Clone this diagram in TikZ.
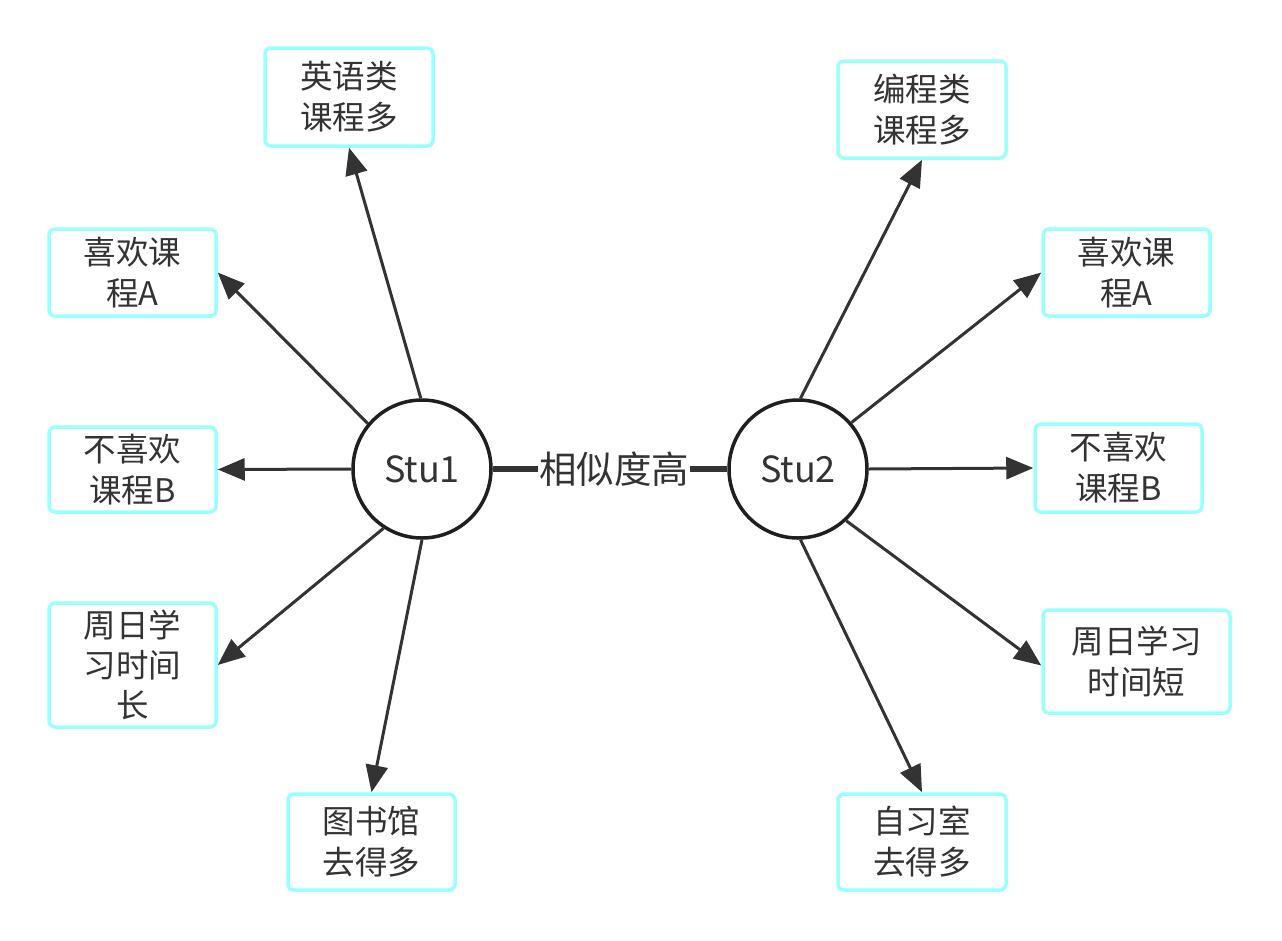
\documentclass[tikz,border=0pt]{standalone}
\usepackage{fontspec}
\setmainfont{Noto Sans CJK SC}
\usetikzlibrary{arrows.meta}
\definecolor{ink}{HTML}{333333}
\definecolor{boxc}{HTML}{99FFFF}
\begin{document}
\begin{tikzpicture}[x=1pt,y=-1pt,
  every node/.style={text=ink},
  infobox/.style={draw=boxc, line width=3.5pt, rounded corners=6pt, fill=white,
    align=center, inner sep=0pt, font=\fontsize{32.5}{41}\selectfont},
  stu/.style={circle, draw=black!88, line width=3.5pt, fill=white,
    minimum size=138pt, inner sep=0pt, font=\fontsize{36}{42}\selectfont},
  conn/.style={draw=ink, line width=3pt, -{Triangle[length=27pt,width=22pt]}},
  link/.style={draw=ink, line width=5.5pt}]
\useasboundingbox (0,0) rectangle (1282,940);
% students
\node[stu] (s1) at (422,469) {Stu1};
\node[stu] (s2) at (798,469) {Stu2};
\node[inner sep=1pt, font=\fontsize{37.5}{42}\selectfont] (mid) at (614,469) {相似度高};
% boxes Stu1
\node[infobox, minimum width=168pt, minimum height=98pt] (b1) at (349,97) {英语类\\课程多};
\node[infobox, minimum width=167pt, minimum height=87pt] (b2) at (132.5,272.5) {\raisebox{-3pt}{\parbox{160pt}{\centering\fontsize{32.5}{41}\selectfont 喜欢课\\程A}}};
\node[infobox, minimum width=167pt, minimum height=85pt] (b3) at (132.5,469.5) {不喜欢\\课程B};
\node[infobox, minimum width=167pt, minimum height=124pt] (b4) at (132.5,665) {\raisebox{-12pt}{\parbox{160pt}{\centering\fontsize{32.5}{40}\selectfont 周日学\\习时间\\长}}};
\node[infobox, minimum width=167pt, minimum height=96pt] (b5) at (371.5,842) {图书馆\\去得多};
% boxes Stu2
\node[infobox, minimum width=168pt, minimum height=97pt] (b6) at (922,109.5) {编程类\\课程多};
\node[infobox, minimum width=167pt, minimum height=87pt] (b7) at (1126.5,272.5) {\raisebox{-3pt}{\parbox{160pt}{\centering\fontsize{32.5}{41}\selectfont 喜欢课\\程A}}};
\node[infobox, minimum width=167pt, minimum height=88pt] (b8) at (1118.5,468) {不喜欢\\课程B};
\node[infobox, minimum width=187pt, minimum height=103pt] (b9) at (1136.5,661.5) {周日学习\\时间短};
\node[infobox, minimum width=168pt, minimum height=96pt] (b10) at (922,842) {自习室\\去得多};
% connectors
\draw[link] (s1.east) -- (mid.west);
\draw[link] (mid.east) -- (s2.west);
\draw[conn] (s1.91) -- (b1.south);
\draw[conn] (s1.140) -- (b2.east);
\draw[conn] (s1.west) -- (b3.east);
\draw[conn] (s1.237) -- (b4.east);
\draw[conn] (s1.south) -- (b5.north);
\draw[conn] (s2.88) -- (b6.south);
\draw[conn] (s2.41) -- (b7.west);
\draw[conn] (s2.east) -- (b8.west);
\draw[conn] (s2.313) -- ([yshift=-4pt]b9.west);
\draw[conn] (s2.272) -- (b10.north);
\end{tikzpicture}
\end{document}
